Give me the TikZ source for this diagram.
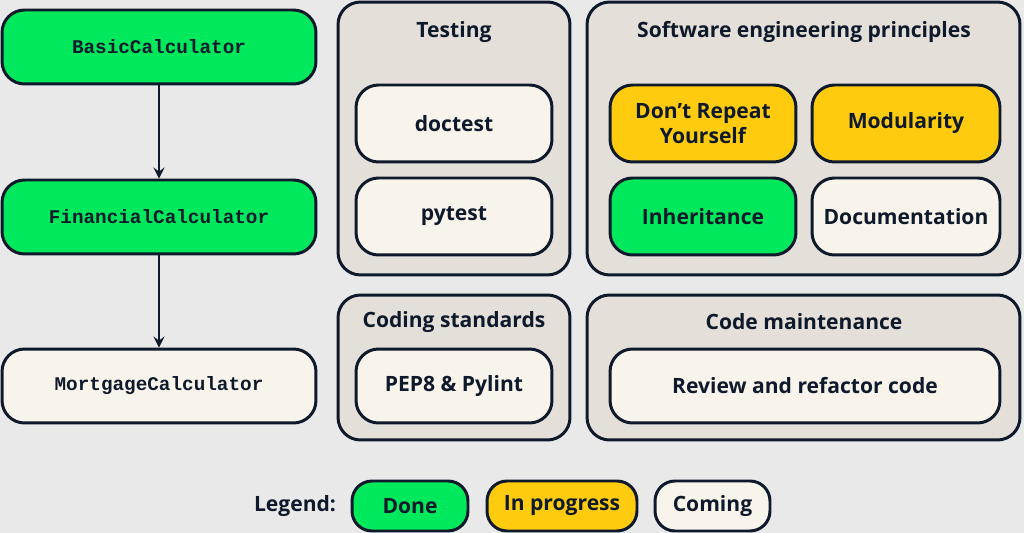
\documentclass[tikz,border=0pt]{standalone}
\usepackage{fontspec}
\setmainfont{Open Sans}
\setmonofont{Liberation Mono}
\usepackage{xcolor}
\usetikzlibrary{positioning}

\definecolor{ink}{HTML}{0E1A2B}
\definecolor{bg}{HTML}{E9E9E9}
\definecolor{panel}{HTML}{E4DFD9}
\definecolor{done}{HTML}{00E85C}
\definecolor{prog}{HTML}{FFCB0F}
\definecolor{todo}{HTML}{F8F4EC}

\begin{document}
\begin{tikzpicture}
[
x=0.02cm, y=-0.02cm,
box-a/.style={rectangle, rounded corners=4.5mm, draw=ink, line width=1.7pt, align=center, inner sep=0pt},
box-d/.style={box-a, fill=done},
box-p/.style={box-a, fill=prog},
box-c/.style={box-a, fill=todo},
panel-a/.style={box-a, fill=panel, rounded corners=4.5mm},
text-a/.style={font=\fontsize{12}{14}\selectfont\bfseries, text=ink, align=center},
text-m/.style={font=\fontsize{11}{13}\selectfont\ttfamily\bfseries, text=ink}
]

\useasboundingbox [fill=bg] (0,0) rectangle (1024,533);

% class chain
\node (basic)   [box-d, minimum width=6.28cm, minimum height=1.48cm, text-m] at (159,47)  {BasicCalculator};
\node (fin)     [box-d, minimum width=6.28cm, minimum height=1.48cm, text-m] at (159,217) {FinancialCalculator};
\node (mort)    [box-c, minimum width=6.28cm, minimum height=1.48cm, text-m] at (159,386) {MortgageCalculator};
\draw [->, >=stealth, draw=ink, line width=1.7pt] (basic)--(fin);
\draw [->, >=stealth, draw=ink, line width=1.7pt] (fin)--(mort);

% panels
\node (test-p)  [panel-a, minimum width=4.64cm, minimum height=5.46cm] at (454,138.5) {};
\node (soft-p)  [panel-a, minimum width=8.66cm, minimum height=5.46cm] at (803.5,138.5) {};
\node (code-p)  [panel-a, minimum width=4.64cm, minimum height=2.90cm] at (454,367.5) {};
\node (main-p)  [panel-a, minimum width=8.66cm, minimum height=2.90cm] at (803.5,367.5) {};
\node (test-t)  [text-a] at (454,32)  {Testing};
\node (soft-t)  [text-a] at (804,32)  {Software engineering principles};
\node (code-t)  [text-a] at (454,322) {Coding standards};
\node (main-t)  [text-a] at (804,322) {Code maintenance};

% items
\node (doct)    [box-c, minimum width=3.92cm, minimum height=1.54cm, text-a] at (454,123.5) {doctest};
\node (pyt)     [box-c, minimum width=3.92cm, minimum height=1.54cm, text-a] at (454,216.5) {pytest};
\node (dry)     [box-p, minimum width=3.72cm, minimum height=1.54cm, text-a] at (703,123.5) {Don’t Repeat\\Yourself};
\node (modu)    [box-p, minimum width=3.76cm, minimum height=1.54cm, text-a] at (906,123.5) {Modularity};
\node (inher)   [box-d, minimum width=3.72cm, minimum height=1.54cm, text-a] at (703,216.5) {Inheritance};
\node (docu)    [box-c, minimum width=3.76cm, minimum height=1.54cm, text-a] at (906,216.5) {Documentation};
\node (pep)     [box-c, minimum width=3.92cm, minimum height=1.48cm, text-a] at (454,386)   {PEP8 \& Pylint};
\node (review)  [box-c, minimum width=7.80cm, minimum height=1.48cm, text-a] at (805,386)   {Review and refactor code};

% legend
\node (leg)     [text-a] at (295,506) {Legend:};
\node (leg-d)   [box-d, minimum width=2.32cm, minimum height=1.0cm, text-a, rounded corners=4mm] at (410,506)   {Done};
\node (leg-p)   [box-p, minimum width=3.00cm, minimum height=1.0cm, text-a, rounded corners=4mm] at (562,506)   {In progress};
\node (leg-c)   [box-c, minimum width=2.30cm, minimum height=1.0cm, text-a, rounded corners=4mm] at (712.5,506) {Coming};

\end{tikzpicture}
\end{document}
